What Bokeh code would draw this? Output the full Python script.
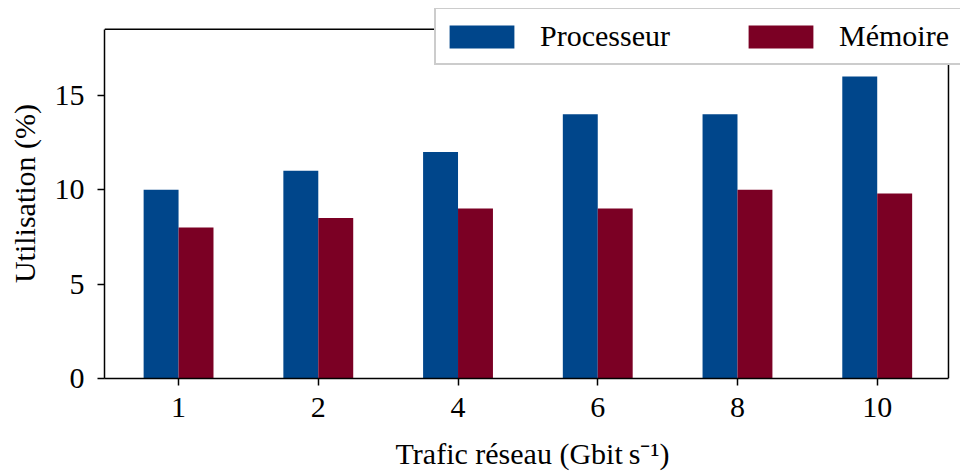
from bokeh.plotting import figure
from bokeh.models import ColumnDataSource, Range1d, Legend, LegendItem, FixedTicker
from bokeh.embed import file_html
from bokeh.resources import INLINE

categories = ["1", "2", "4", "6", "8", "10"]
processeur = [10, 11, 12, 14, 14, 16]
memoire = [8, 8.5, 9, 9, 10, 9.8]
series_names = ["Processeur", "Mémoire"]
colors = ["#00468b", "#7b0024"]

FONT = "Liberation Serif"
FS = "30px"

X_LO, X_HI = -0.53, 5.51
Y_HI = 18.5

x = list(range(len(categories)))
bw = 0.25
src = ColumnDataSource(dict(
    xp=[i - bw / 2 for i in x],
    xm=[i + bw / 2 for i in x],
    proc=processeur,
    mem=memoire,
))

p = figure(width=960, height=472, output_backend="svg", toolbar_location=None,
           x_range=Range1d(X_LO, 5.596), y_range=Range1d(0, 19.6),
           min_border_left=104, min_border_right=0, min_border_top=8, min_border_bottom=93)

r1 = p.vbar(x="xp", top="proc", width=bw, source=src, fill_color=colors[0], line_color=None)
r2 = p.vbar(x="xm", top="mem", width=bw, source=src, fill_color=colors[1], line_color=None)

# top and right spines
p.segment(x0=[X_LO, X_HI], y0=[Y_HI, 0], x1=[X_HI, X_HI], y1=[Y_HI, Y_HI],
          line_color="black", line_width=1.5)

p.xgrid.visible = False
p.ygrid.visible = False
p.outline_line_color = None

p.xaxis.ticker = FixedTicker(ticks=x)
p.xaxis.major_label_overrides = {i: c for i, c in enumerate(categories)}
p.yaxis.ticker = FixedTicker(ticks=[0, 5, 10, 15])
p.xaxis.bounds = (X_LO, X_HI)
p.yaxis.bounds = (0, Y_HI)

for ax in (p.xaxis[0], p.yaxis[0]):
    ax.axis_line_color = "black"
    ax.axis_line_width = 1.5
    ax.major_tick_line_color = "black"
    ax.major_tick_line_width = 1.5
    ax.major_tick_out = 7
    ax.major_tick_in = 0
    ax.minor_tick_line_color = None
    ax.major_label_text_font = FONT
    ax.major_label_text_font_size = FS
    ax.major_label_text_color = "black"
    ax.axis_label_text_font = FONT
    ax.axis_label_text_font_size = FS
    ax.axis_label_text_font_style = "normal"
    ax.axis_label_text_color = "black"

p.xaxis.axis_label = "Trafic réseau (Gbit\u2009s\u207b\u00b9)"
p.yaxis.axis_label = "Utilisation (%)"
p.xaxis.major_label_standoff = 12
p.yaxis.major_label_standoff = 13
p.xaxis.axis_label_standoff = 17
p.yaxis.axis_label_standoff = 11

legend = Legend(items=[LegendItem(label=series_names[0], renderers=[r1]),
                       LegendItem(label=series_names[1], renderers=[r2])],
                location=(330, 313), orientation="horizontal",
                glyph_width=81, glyph_height=29, label_standoff=18, spacing=56,
                label_width=144, label_height=44,
                padding=5, margin=0,
                label_text_font=FONT, label_text_font_size=FS, label_text_color="black",
                border_line_color="#cccccc", border_line_width=2, border_line_alpha=1.0,
                background_fill_color="white", background_fill_alpha=1.0)
p.add_layout(legend, "center")

open("out.html", "w").write(file_html(p, INLINE))
